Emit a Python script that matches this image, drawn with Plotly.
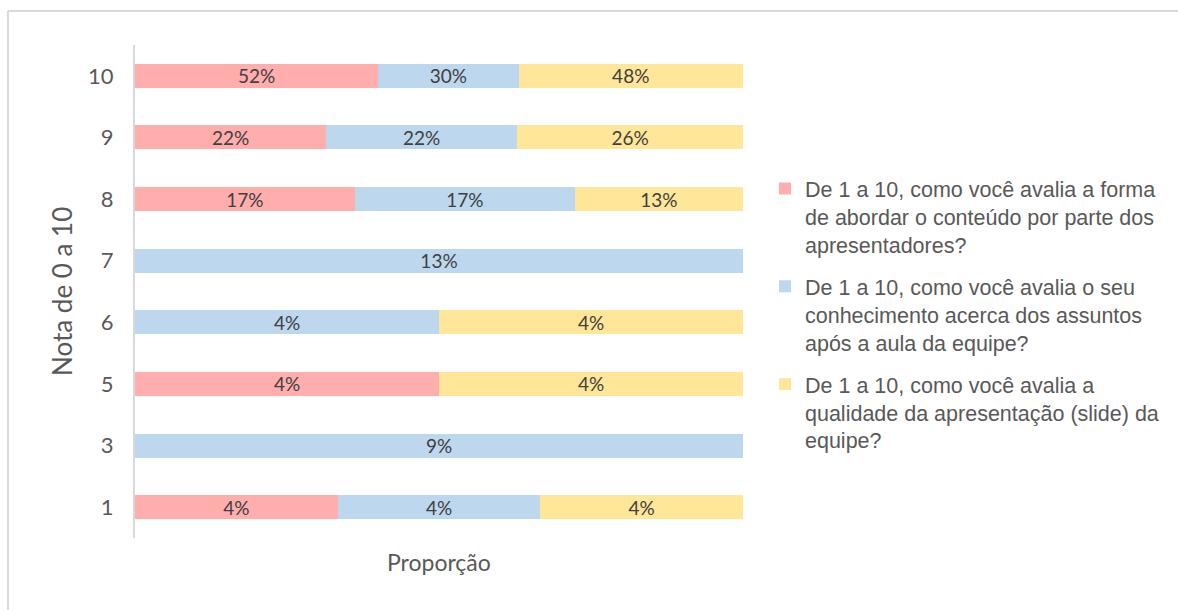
import plotly.graph_objects as go

# Score categories (bottom to top)
notas = ["1", "3", "5", "6", "7", "8", "9", "10"]

# Percent of answers per question at each score (None = no answers)
forma_abordagem = [4, None, 4, None, None, 17, 22, 52]
conhecimento = [4, 9, None, 4, 13, 17, 22, 30]
qualidade_slide = [4, None, 4, 4, None, 13, 26, 48]

series_names = [
    "De 1 a 10, como você avalia a forma<br>de abordar o conteúdo por parte dos<br>apresentadores?",
    "De 1 a 10, como você avalia o seu<br>conhecimento acerca dos assuntos<br>após a aula da equipe?",
    "De 1 a 10, como você avalia a<br>qualidade da apresentação (slide) da<br>equipe?",
]
series_values = [forma_abordagem, conhecimento, qualidade_slide]
series_colors = ["#FFADAD", "#BDD7EE", "#FFE699"]

W, H = 1178, 610
ML, MR, MT, MB = 135, W - 743, 45, H - 538
PW, PH = W - ML - MR, H - MT - MB


def px_x(x):
    return (x - ML) / PW


def px_y(y):
    return 1 - (y - MT) / PH


fig = go.Figure()
for i, (name, vals, col) in enumerate(zip(series_names, series_values, series_colors)):
    fig.add_trace(go.Bar(
        y=notas,
        x=vals,
        name=name,
        orientation="h",
        legendgroup=f"g{i}",
        marker=dict(color=col, line=dict(width=0)),
        text=[f"{v}%" if v is not None else "" for v in vals],
        textposition="inside",
        insidetextanchor="middle",
        textangle=0,
        textfont=dict(family="Lato", size=19, color="#404040"),
        constraintext="none",
        hoverinfo="skip",
    ))

fig.update_layout(
    width=W, height=H,
    barmode="stack",
    barnorm="percent",
    bargap=0.61,
    plot_bgcolor="white",
    paper_bgcolor="white",
    margin=dict(l=ML, r=MR, t=MT, b=MB, autoexpand=False),
    uniformtext=dict(mode=False),
    xaxis=dict(
        range=[0, 100], showticklabels=False, showgrid=False,
        zeroline=False, showline=False, ticks="", fixedrange=True,
    ),
    yaxis=dict(
        type="category", categoryorder="array", categoryarray=notas,
        showgrid=False, zeroline=False,
        showline=True, linecolor="#d9d9d9", linewidth=2,
        ticks="", ticklabelstandoff=15,
        tickfont=dict(family="Lato", size=22, color="#595959"),
    ),
    legend=dict(
        x=px_x(765), y=px_y(168), xanchor="left", yanchor="top",
        valign="top", tracegroupgap=11, itemwidth=30,
        font=dict(family="Liberation Sans", size=21.5, color="#595959"),
        bgcolor="rgba(0,0,0,0)",
    ),
    showlegend=True,
    annotations=[
        dict(text="Proporção", xref="paper", yref="paper",
             x=0.5, y=px_y(562), xanchor="center", yanchor="middle",
             showarrow=False,
             font=dict(family="Lato", size=23, color="#595959")),
        dict(text="Nota de 0 a 10", xref="paper", yref="paper",
             x=px_x(62), y=px_y(292), xanchor="center", yanchor="middle",
             textangle=-90, showarrow=False,
             font=dict(family="Lato", size=26, color="#595959")),
    ],
    shapes=[
        # outer chart frame (top and left edges visible)
        dict(type="line", xref="paper", yref="paper",
             x0=px_x(8), x1=px_x(8), y0=px_y(11), y1=px_y(700),
             line=dict(color="#d9d9d9", width=2)),
        dict(type="line", xref="paper", yref="paper",
             x0=px_x(8), x1=px_x(1300), y0=px_y(11), y1=px_y(11),
             line=dict(color="#d9d9d9", width=2)),
    ],
)

fig.write_html("out.html")
